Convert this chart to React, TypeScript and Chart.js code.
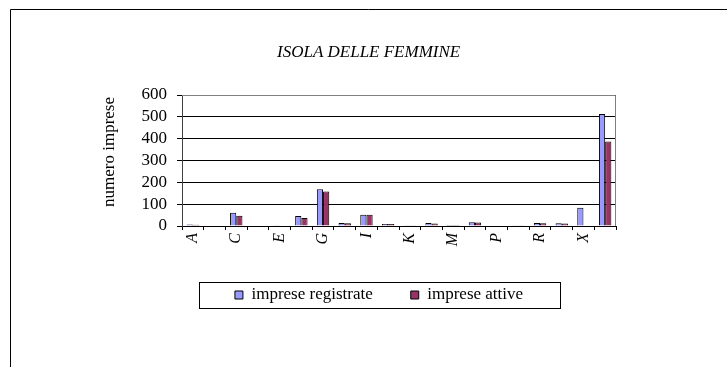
import React, { useEffect, useRef } from 'react';
import { Chart, registerables } from 'chart.js';

Chart.register(...registerables);

const categories = ['A', 'B', 'C', 'D', 'E', 'F', 'G', 'H', 'I', 'J', 'K', 'L', 'M', 'N', 'P', 'Q', 'R', 'S', 'X', 'Totale'];
const impreseRegistrate = [7, 0, 61, 0, 3, 46, 168, 14, 52, 9, 3, 14, 5, 17, 0, 3, 14, 13, 84, 513];
const impreseAttive = [6, 0, 47, 0, 2, 37, 158, 13, 51, 9, 3, 12, 5, 16, 0, 3, 13, 12, 0, 387];
const seriesNames = ['imprese registrate', 'imprese attive'];
const yMin = 0;
const yMax = 600;
const yStep = 100;
const chartTitle = 'ISOLA DELLE FEMMINE';
const yTitle = 'numero imprese';

const SERIF = "'Liberation Serif', 'Times New Roman', serif";

const decor = {
  id: 'decor',
  afterLayout(chart: any) {
    const lg = chart.legend;
    if (lg) {
      lg.left += 71;
      lg.right += 71;
    }
    const t = chart.titleBlock;
    if (t) {
      t.left += 60.6;
      t.right += 60.6;
    }
  },
  beforeDatasetsDraw(chart: any) {
    const { ctx, chartArea } = chart;
    ctx.save();
    ctx.strokeStyle = '#808080';
    ctx.lineWidth = 1;
    ctx.beginPath();
    const top = Math.round(chartArea.top) + 0.5;
    const right = Math.round(chartArea.right) - 0.5;
    ctx.moveTo(Math.round(chartArea.left), top);
    ctx.lineTo(right, top);
    ctx.lineTo(right, Math.round(chartArea.bottom));
    ctx.stroke();
    ctx.restore();
  },
  afterDraw(chart: any) {
    const { ctx } = chart;
    ctx.save();
    // outer frame (partially visible)
    ctx.strokeStyle = '#000';
    ctx.lineWidth = 1;
    ctx.beginPath();
    ctx.moveTo(10.5, 367);
    ctx.lineTo(10.5, 9.5);
    ctx.lineTo(727, 9.5);
    ctx.stroke();
    // legend border
    const hb = chart.legend && chart.legend.legendHitBoxes;
    if (hb && hb.length >= 2) {
      const l = Math.round(hb[0].left - 36) + 0.5;
      const r = Math.round(hb[1].left + hb[1].width + 37) + 0.5;
      const cy = hb[0].top + hb[0].height / 2;
      const t = Math.round(cy - 13) + 0.5;
      const b = Math.round(cy + 13) + 0.5;
      ctx.strokeRect(l, t, r - l, b - t);
    }
    // y axis title
    ctx.fillStyle = '#000';
    ctx.font = `17px ${SERIF}`;
    ctx.textAlign = 'center';
    ctx.textBaseline = 'middle';
    ctx.translate(110, 152);
    ctx.rotate(-Math.PI / 2);
    ctx.fillText(yTitle, 0, 0);
    ctx.restore();
  },
};

export default function App() {
  const ref = useRef<HTMLCanvasElement>(null);

  useEffect(() => {
    const canvas = ref.current;
    if (!canvas) return;
    const chart = new Chart(canvas, {
      type: 'bar',
      data: {
        labels: categories,
        datasets: [
          {
            label: seriesNames[0],
            data: impreseRegistrate,
            backgroundColor: '#9999FF',
            borderColor: '#000000',
            borderWidth: 1,
            categoryPercentage: 2 / 3.5,
            barPercentage: 1,
          },
          {
            label: seriesNames[1],
            data: impreseAttive,
            backgroundColor: '#993366',
            borderColor: '#000000',
            borderWidth: 1,
            categoryPercentage: 2 / 3.5,
            barPercentage: 1,
          },
        ],
      },
      options: {
        animation: false,
        responsive: false,
        devicePixelRatio: 1,
        layout: { padding: { left: 0, right: 111, top: 0, bottom: 53.5 } },
        plugins: {
          tooltip: { enabled: false },
          title: {
            display: true,
            text: chartTitle,
            color: '#000',
            font: { family: SERIF, size: 17, style: 'italic', weight: 'normal' },
            padding: { top: 42.5, bottom: 32.1 },
          },
          legend: {
            display: true,
            position: 'bottom',
            labels: {
              color: '#000',
              font: { family: SERIF, size: 17 },
              boxWidth: 8,
              boxHeight: 8,
              padding: 38,
            },
          },
        },
        scales: {
          x: {
            grid: {
              display: true,
              drawOnChartArea: false,
              drawTicks: true,
              tickLength: 4,
              color: '#000',
              offset: true,
            },
            border: { display: true, color: '#000' },
            ticks: {
              autoSkip: false,
              minRotation: 90,
              maxRotation: 90,
              padding: 3,
              color: '#000',
              font: { family: SERIF, size: 16, style: 'italic' },
              callback: (_v: any, i: number) => (i % 2 === 0 ? categories[i] : ''),
            },
            afterFit: (scale: any) => {
              scale.height = 22.5;
            },
          },
          y: {
            min: yMin,
            max: yMax,
            grid: {
              color: '#000',
              drawTicks: true,
              tickLength: 5,
            },
            border: { display: true, color: '#404040' },
            ticks: {
              stepSize: yStep,
              autoSkip: false,
              maxTicksLimit: 20,
              padding: 10,
              color: '#000',
              font: { family: SERIF, size: 17, lineHeight: 1 },
            },
            afterFit: (scale: any) => {
              scale.width = 182;
            },
          },
        },
      },
      plugins: [decor],
    } as any);
    return () => chart.destroy();
  }, []);

  return (
    <div style={{ position: 'fixed', left: 0, top: 0, width: 727, height: 367, background: '#fff' }}>
      <canvas ref={ref} width={727} height={367} style={{ display: 'block', width: 727, height: 367 }} />
    </div>
  );
}
